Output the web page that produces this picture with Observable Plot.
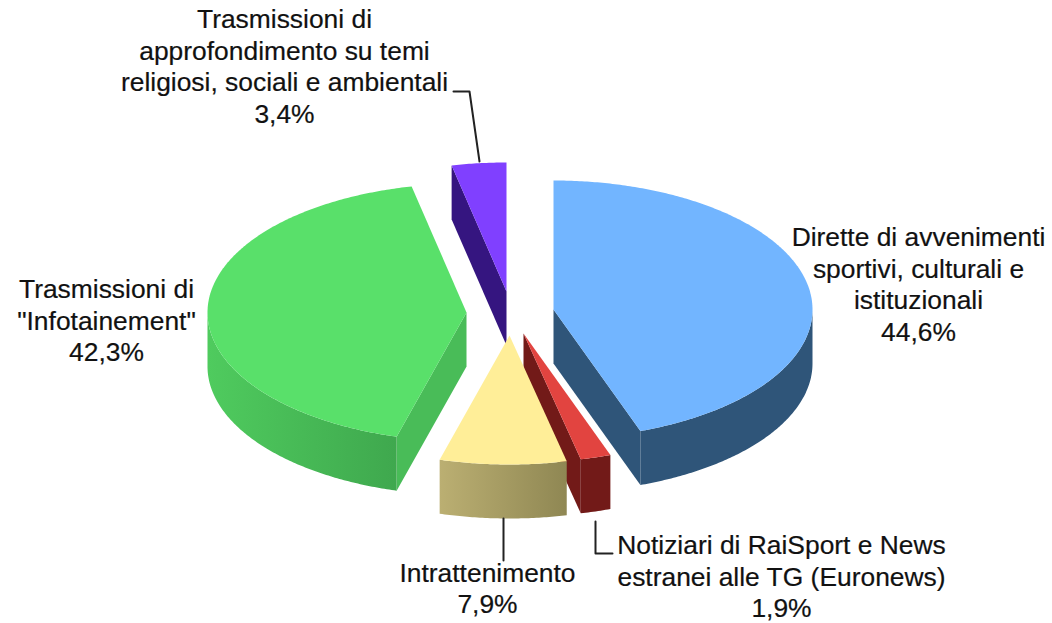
<!DOCTYPE html>
<html>
<head>
<meta charset="utf-8">
<style>html,body{margin:0;padding:0;background:#fff}svg{display:block}</style>
<script src="https://cdn.jsdelivr.net/npm/d3@7"></script>
<script src="https://cdn.jsdelivr.net/npm/@observablehq/plot@0.6"></script>
</head>
<body>
<div id="chart"></div>
<script>
// Slices, clockwise from 12 o'clock
const categories = ["Dirette","Notiziari","Intrattenimento","Infotainement","Approfondimento"];
const values = [44.6, 1.9, 7.9, 42.3, 3.4];
const topColors = ["#72B5FF","#E24440","#FFEE98","#59E06A","#8040FF"];
const wallFrom = ["#2F5579","#721A18","#BBAF72","#4FCB5E","#351580"];
const wallTo = ["#2F5579","#721A18","#8F8753","#3FA84E","#351580"];
const radialColors = ["#2F5579","#721A18","#BBAF72","#49BC58","#351580"];
// Exploded apex of each slice, in chart units
const apexX = [553, 523, 509, 466, 506];
const apexY = [309, 333, 335, 312, 291];
// Ellipse of the tilted pie
const rx = 259, ry = 129, depth = 54;
// Labels
const labelTexts = [
  "Dirette di avvenimenti\nsportivi, culturali e\nistituzionali\n44,6%",
  "Notiziari di RaiSport e News\nestranei alle TG (Euronews)\n1,9%",
  "Intrattenimento\n7,9%",
  "Trasmissioni di\n\"Infotainement\"\n42,3%",
  "Trasmissioni di\napprofondimento su temi\nreligiosi, sociali e ambientali\n3,4%"
];
const labelX = [918, 781, 487, 106, 284];
const labelY = [283, 575, 587, 319, 65];
const leaders = [
  [[595,521],[595,553],[612,553]],
  [[503,518],[503,560]],
  [[453,91],[469,91],[479,161]]
];

const arcs = d3.pie().sort(null).value(d => d)(values);
const rim = (i, t, dz = 0) => ({x: apexX[i] + rx * Math.sin(t), y: apexY[i] - ry * Math.cos(t) + dz});
const arcPoints = (i, a, b, dz = 0) => {
  const n = Math.max(2, Math.ceil((b - a) / 0.01));
  return d3.range(n + 1).map(k => rim(i, a + (b - a) * k / n, dz));
};
const face = (pts, fill) => Plot.line(pts, {x: "x", y: "y", fill, stroke: "none", curve: "linear"});

const sliceMarks = i => {
  const {startAngle: a, endAngle: b} = arcs[i];
  const ap = {x: apexX[i], y: apexY[i]}, apLow = {x: apexX[i], y: apexY[i] + depth};
  const out = [];
  if (Math.sin(a) < -1e-6) out.push(face([ap, rim(i, a), rim(i, a, depth), apLow], radialColors[i]));
  if (Math.sin(b) > 1e-6) out.push(face([ap, rim(i, b), rim(i, b, depth), apLow], radialColors[i]));
  const f = Math.max(a, Math.PI / 2), t = Math.min(b, 3 * Math.PI / 2);
  if (t > f) out.push(face([...arcPoints(i, f, t), ...arcPoints(i, f, t, depth).reverse()], `url(#wall${i})`));
  out.push(face([ap, ...arcPoints(i, a, b)], topColors[i]));
  return out;
};

const defs = () => {
  const d = d3.create("svg:defs");
  categories.forEach((_, i) => {
    const g = d.append("svg:linearGradient").attr("id", `wall${i}`);
    g.append("svg:stop").attr("offset", "0").attr("stop-color", wallFrom[i]);
    g.append("svg:stop").attr("offset", "1").attr("stop-color", wallTo[i]);
  });
  return d.node();
};

const drawOrder = [4, 3, 0, 1, 2];

const chart = Plot.plot({
  width: 1052, height: 623, margin: 0,
  style: {background: "#fff"},
  x: {domain: [0, 1052], range: [0, 1052], axis: null},
  y: {domain: [0, 623], range: [0, 623], axis: null},
  marks: [
    defs,
    ...drawOrder.flatMap(sliceMarks),
    ...leaders.map(l => Plot.line(l, {x: d => d[0], y: d => d[1], stroke: "#222", strokeWidth: 2, curve: "linear"})),
    Plot.text(values.map((_, i) => i), {
      x: i => labelX[i], y: i => labelY[i], text: i => labelTexts[i],
      fontFamily: "Liberation Sans", fontSize: 26.4, lineHeight: 1.19,
      fill: "#111", stroke: "#111", strokeWidth: 0.2, textAnchor: "middle", lineAnchor: "middle"
    })
  ]
});
document.getElementById("chart").appendChild(chart);
</script>
</body>
</html>
